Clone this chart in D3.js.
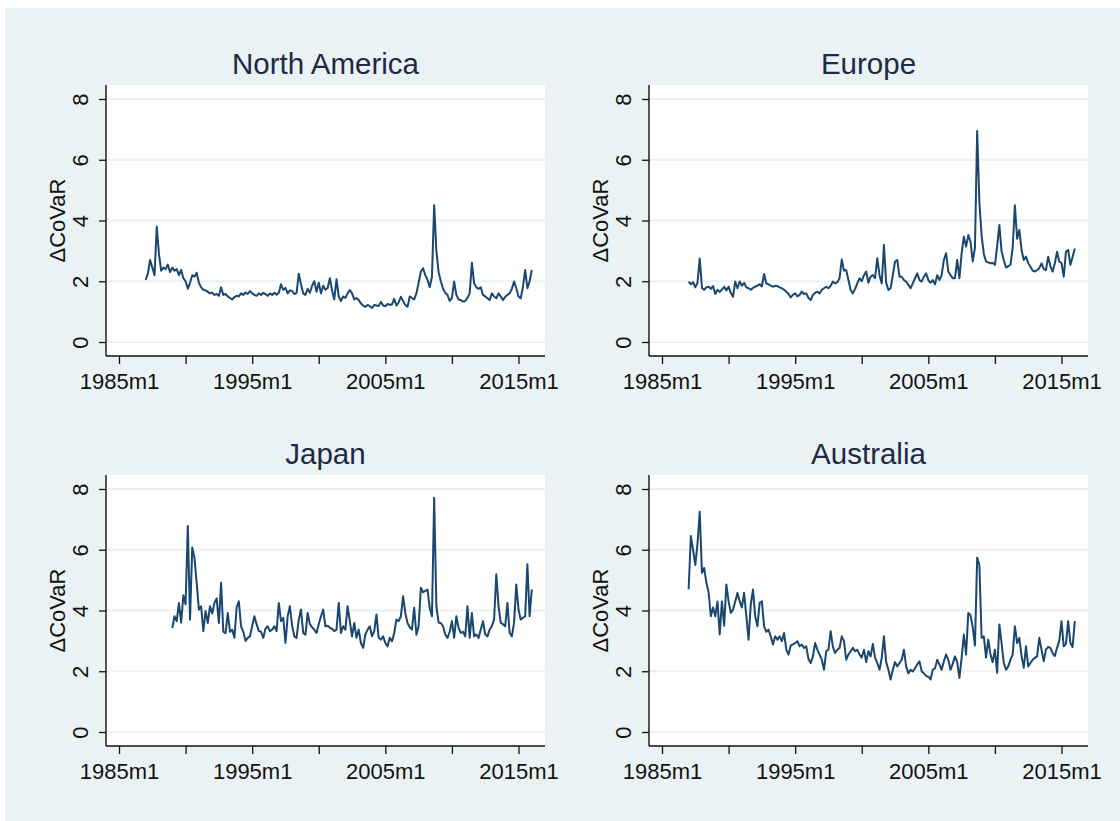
<!DOCTYPE html>
<html><head><meta charset="utf-8">
<script src="https://cdn.jsdelivr.net/npm/d3@7"></script>
<style>body{margin:0;background:#fff}</style>
</head><body>
<svg id="chart" width="1120" height="821"></svg>
<script>
const panelTitles = ["North America", "Europe", "Japan", "Australia"];
const xTickValues = [1985, 1990, 1995, 2000, 2005, 2010, 2015];
const xTickLabels = ["1985m1", "", "1995m1", "", "2005m1", "", "2015m1"];
const yTickValues = [0, 2, 4, 6, 8];
const yTitle = "ΔCoVaR";
const stepYears = 1 / 6;
const naStart = 1987, euStart = 1987, jpStart = 1989, auStart = 1987;

const naValues = [
2.04,2.25,2.7,2.45,2.2,3.8,
2.9,2.35,2.45,2.4,2.55,2.3,
2.45,2.35,2.4,2.2,2.37,2.1,
2.0,1.75,1.95,2.2,2.15,2.28,
1.95,1.8,1.72,1.7,1.65,1.6,
1.62,1.55,1.58,1.52,1.8,1.55,
1.58,1.5,1.45,1.4,1.48,1.52,
1.5,1.6,1.55,1.63,1.58,1.68,
1.6,1.55,1.52,1.6,1.55,1.62,
1.58,1.52,1.6,1.55,1.62,1.56,
1.62,1.9,1.72,1.78,1.6,1.7,
1.68,1.58,1.62,2.25,1.9,1.6,
1.55,1.75,1.62,1.85,2.0,1.65,
1.95,1.6,1.85,1.72,1.78,2.1,
1.7,1.4,2.07,1.5,1.35,1.5,
1.45,1.6,1.71,1.6,1.4,1.45,
1.38,1.27,1.2,1.16,1.22,1.18,
1.12,1.22,1.2,1.18,1.32,1.2,
1.18,1.25,1.22,1.24,1.42,1.2,
1.3,1.49,1.35,1.22,1.16,1.5,
1.45,1.4,1.6,1.95,2.32,2.43,
2.2,2.05,1.8,2.15,4.5,3.0,
2.3,2.0,1.75,1.62,1.55,1.35,
1.45,1.99,1.55,1.4,1.38,1.33,
1.35,1.45,1.6,2.61,1.93,1.8,
1.75,1.8,1.55,1.5,1.44,1.38,
1.6,1.5,1.44,1.6,1.5,1.38,
1.49,1.55,1.6,1.75,1.99,1.77,
1.5,1.44,1.82,2.37,1.77,2.0,
2.37];

const euValues = [
1.99,1.9,1.97,1.8,1.95,2.75,
1.78,1.72,1.8,1.82,1.75,1.84,
1.58,1.72,1.65,1.72,1.82,1.7,
1.82,1.62,1.49,1.99,1.77,1.99,
1.85,1.95,1.8,1.77,1.72,1.78,
1.82,1.86,1.9,1.83,2.24,1.93,
1.9,1.86,1.82,1.85,1.84,1.8,
1.77,1.72,1.66,1.58,1.47,1.55,
1.6,1.5,1.55,1.66,1.58,1.6,
1.45,1.38,1.55,1.62,1.66,1.6,
1.72,1.77,1.82,1.77,1.85,1.99,
1.93,1.97,2.1,2.72,2.35,2.37,
2.04,1.71,1.6,1.75,1.93,2.1,
2.0,2.2,2.32,1.95,2.15,2.2,
2.1,2.76,2.2,1.93,3.19,1.95,
1.71,1.77,2.2,2.65,2.7,2.15,
2.15,2.04,1.99,1.88,1.77,1.93,
2.1,2.26,2.04,1.99,2.15,2.26,
2.04,1.95,2.04,1.9,2.2,2.04,
2.2,2.7,2.92,2.32,2.2,2.1,
2.1,2.7,2.1,2.92,3.47,3.14,
3.52,3.3,2.65,3.1,6.95,4.6,
3.5,2.9,2.65,2.62,2.59,2.6,
2.54,3.14,3.85,2.98,2.7,2.45,
2.5,2.54,3.1,4.5,3.4,3.69,
3.03,2.7,2.81,2.6,2.48,2.35,
2.32,2.37,2.43,2.59,2.4,2.37,
2.81,2.5,2.32,2.59,2.97,2.65,
2.6,2.15,2.97,3.03,2.54,2.8,
3.08];

const jpValues = [
3.43,3.81,3.65,4.25,3.6,4.5,
4.2,6.78,3.7,6.07,5.74,4.9,
4.03,4.14,3.32,3.98,3.59,4.14,
3.9,4.25,4.4,3.59,4.91,3.3,
3.25,3.92,3.3,3.37,3.1,4.1,
4.3,3.48,3.3,3.0,3.1,3.15,
3.48,3.81,3.55,3.32,3.3,3.1,
3.4,3.48,3.32,3.37,3.48,3.32,
4.25,3.65,3.76,2.93,3.81,4.14,
3.5,3.15,3.1,3.7,4.03,3.26,
3.2,3.92,3.55,3.45,3.37,3.26,
3.55,3.81,4.03,3.48,3.5,3.43,
3.4,3.32,3.37,4.25,3.26,3.48,
3.37,4.14,3.65,3.15,3.59,3.1,
3.37,2.93,2.77,3.21,3.37,3.48,
3.15,3.32,3.87,3.1,3.04,3.15,
2.93,2.82,3.1,2.99,3.26,3.7,
3.65,3.81,4.47,3.92,3.59,3.45,
3.37,4.09,3.2,3.48,4.75,4.6,
4.65,4.69,4.09,3.81,7.71,4.14,
3.6,3.59,3.48,3.21,3.1,3.3,
3.65,3.1,3.81,3.43,3.26,3.3,
3.15,4.14,3.1,3.92,3.15,3.21,
3.1,3.37,3.65,3.21,3.15,3.37,
3.48,3.7,5.19,4.14,3.59,3.55,
3.48,4.25,3.26,3.15,3.6,4.86,
4.03,3.7,3.76,3.81,5.52,3.81,
4.69];

const auValues = [
4.7,6.45,6.0,5.5,6.2,7.25,
5.24,5.4,4.91,4.6,3.81,4.1,
3.81,4.3,3.21,4.3,3.5,4.86,
4.3,3.92,4.03,4.3,4.58,4.3,
4.1,4.58,3.81,3.04,4.2,4.69,
3.8,3.48,4.25,4.3,3.48,3.3,
3.37,3.15,2.88,3.15,3.04,3.15,
2.99,3.26,2.71,2.55,2.85,2.88,
2.93,2.99,2.82,2.88,2.77,2.82,
2.4,2.27,2.49,2.93,2.71,2.55,
2.38,2.05,2.66,2.71,3.32,2.8,
2.6,2.71,2.77,3.15,2.99,2.38,
2.55,2.66,2.77,2.66,2.71,2.55,
2.45,2.71,2.3,2.66,2.49,2.9,
2.45,2.27,2.05,2.44,3.15,2.3,
2.05,1.73,2.05,2.3,2.16,2.27,
2.38,2.71,2.16,1.93,2.05,1.99,
2.1,2.22,2.33,2.0,1.93,1.85,
1.82,1.73,2.05,2.1,2.38,2.22,
2.05,2.33,2.55,2.38,2.05,2.25,
2.49,2.3,1.78,2.44,3.21,2.55,
3.92,3.85,3.45,2.85,5.74,5.5,
3.1,3.15,2.45,3.04,2.55,2.3,
2.71,1.95,3.54,2.93,2.27,2.05,
2.16,2.38,2.55,3.48,2.93,3.1,
2.5,2.11,2.82,2.16,2.27,2.38,
2.44,2.49,3.1,2.71,2.33,2.71,
2.8,2.77,2.6,2.5,2.77,3.0,
3.65,2.82,2.9,3.65,2.93,2.8,
3.65];

const seriesList = [
  {start: naStart, values: naValues},
  {start: euStart, values: euValues},
  {start: jpStart, values: jpValues},
  {start: auStart, values: auValues}
];

const svg = d3.select("#chart");
const FONT = "Arial, 'Liberation Sans', Helvetica, sans-serif";
svg.append("rect").attr("x", 0).attr("y", 0).attr("width", 1120).attr("height", 821).attr("fill", "#ffffff");
svg.append("rect").attr("x", 5).attr("y", 8).attr("width", 1115).attr("height", 813).attr("fill", "#eaf2f3");

const W = 439, H = 271;
const origins = [[106, 85], [649, 85], [106, 475], [649, 475]];

panelTitles.forEach((title, k) => {
  const [left, top] = origins[k];
  const g = svg.append("g").attr("transform", `translate(${left},${top})`);
  g.append("rect").attr("width", W).attr("height", H).attr("fill", "#ffffff");

  const x = d3.scaleLinear().domain([1985, 2015]).range([13, 412.5]);
  const y = d3.scaleLinear().domain([0, 8]).range([257, 14]);

  g.selectAll("line.grid").data(yTickValues).enter().append("line")
    .attr("class", "grid")
    .attr("x1", 0).attr("x2", W)
    .attr("y1", d => y(d)).attr("y2", d => y(d))
    .attr("stroke", "#eaf2f3").attr("stroke-width", 1.8);

  const s = seriesList[k];
  const pts = s.values.map((v, i) => ({t: s.start + i * stepYears, v: v}));
  g.append("path").datum(pts)
    .attr("fill", "none")
    .attr("stroke", "#1a476f")
    .attr("stroke-width", 2.0)
    .attr("stroke-linejoin", "round")
    .attr("d", d3.line().x(d => x(d.t)).y(d => y(d.v)));

  const xa = g.append("g").attr("transform", `translate(0,${H})`)
    .call(d3.axisBottom(x).tickValues(xTickValues).tickFormat((d, i) => xTickLabels[i]).tickSize(8).tickSizeOuter(0));
  xa.select(".domain").remove();
  xa.selectAll(".tick line").attr("stroke", "#111").attr("stroke-width", 1.3);
  xa.selectAll(".tick text").attr("y", 33).attr("dy", 0)
    .attr("font-size", 22).attr("font-family", FONT).attr("fill", "#111");

  const ya = g.append("g")
    .call(d3.axisLeft(y).tickValues(yTickValues).tickSize(7).tickSizeOuter(0));
  ya.select(".domain").remove();
  ya.selectAll(".tick line").attr("stroke", "#111").attr("stroke-width", 1.3);
  ya.selectAll(".tick text")
    .attr("x", 0).attr("dy", 0).attr("y", 0)
    .attr("text-anchor", "middle")
    .attr("transform", "translate(-17.7,0) rotate(-90)")
    .attr("font-size", 22).attr("font-family", FONT).attr("fill", "#111");

  g.append("line").attr("x1", 0).attr("x2", W).attr("y1", H).attr("y2", H)
    .attr("stroke", "#111").attr("stroke-width", 1.4);
  g.append("line").attr("x1", 0).attr("x2", 0).attr("y1", 0).attr("y2", H)
    .attr("stroke", "#111").attr("stroke-width", 1.4);

  g.append("text")
    .attr("transform", `translate(-41,${H / 2}) rotate(-90)`)
    .attr("text-anchor", "middle")
    .attr("font-size", 22).attr("font-family", FONT).attr("fill", "#111")
    .text(yTitle);

  g.append("text")
    .attr("x", W / 2).attr("y", -11)
    .attr("text-anchor", "middle")
    .attr("font-size", 29.5).attr("font-family", FONT).attr("fill", "#1e2a45")
    .text(title);
});
</script>
</body></html>
